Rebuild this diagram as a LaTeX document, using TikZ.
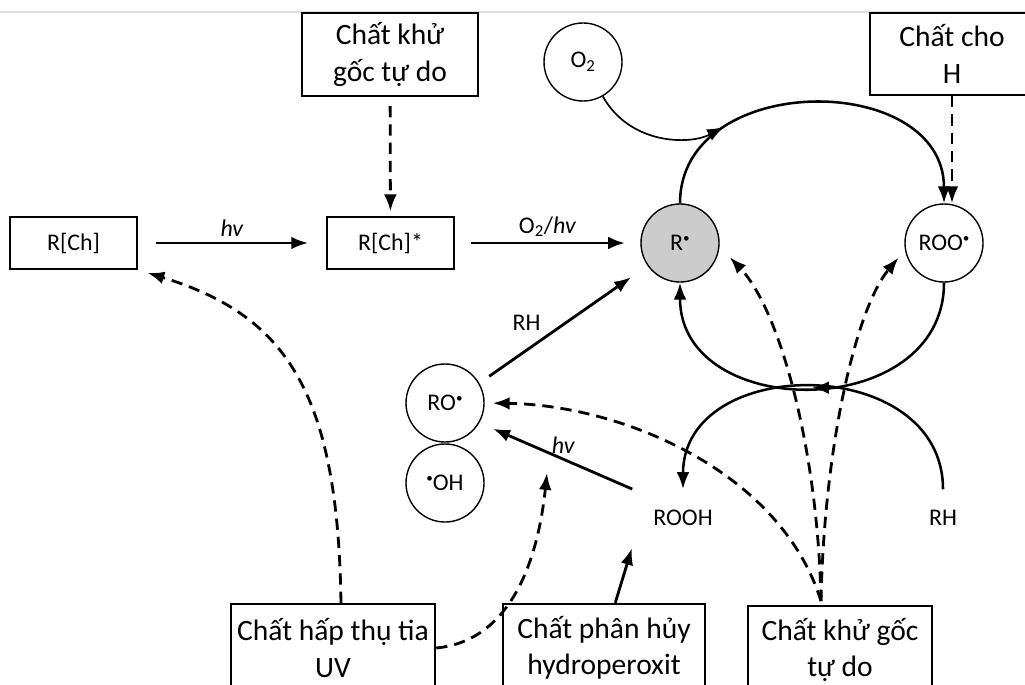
\documentclass[tikz,border=0pt]{standalone}
\usepackage{fontspec}
\setmainfont{Carlito}
\usetikzlibrary{arrows.meta,decorations.markings}
\newcommand\boxfont{\fontsize{21}{26}\selectfont}
\newcommand\chemfont{\fontsize{17}{20}\selectfont}
\newcommand\rad{\raisebox{0.75ex}{\scalebox{0.55}{•}}}

\begin{document}
\begin{tikzpicture}[
    x=0.025cm, y=-0.025cm,
    box/.style={draw, line width=1.7pt, align=center, font=\boxfont, inner sep=0pt},
    tag/.style={draw, line width=1.2pt, font=\chemfont, minimum width=3.175cm, minimum height=1.3cm},
    species/.style={draw, circle, line width=1pt, minimum size=1.95cm, inner sep=0pt, font=\chemfont},
    chem/.style={font=\chemfont, inner sep=0.52cm},
    flow/.style={-{Latex[length=12pt,width=9pt]}, line width=2pt},
    ringflow/.style={flow, line width=1.8pt},
    inhib/.style={flow, dash pattern=on 8pt off 5pt},
    midarrow/.style={postaction={decorate}, decoration={markings,
        mark=at position 0.5 with {\arrow{Latex[length=12pt,width=9pt]}}}}
]
\clip (0,0) rectangle (1025,684);
\draw[gray!25, line width=1pt] (0,12) -- (1025,12);

% boxes
\node[box, minimum width=4.4cm, minimum height=2.075cm] (scavtop) at (390,54.5) {Chất khử\\gốc tự do};
\node[box, minimum width=4.1cm, minimum height=2.05cm] (hdonor) at (952,54) {Chất cho\\H};
\node[tag] (rch) at (73.5,243) {R[Ch]};
\node[tag] (rchx) at (390.5,243) {R[Ch]*};
\node[box, minimum width=5.1cm, minimum height=2.2cm] (uvabs) at (333,648) {Chất hấp thụ tia\\UV};
\node[box, minimum width=5.05cm, minimum height=2.2cm] (decomp) at (604,648) {Chất phân hủy\\hydroperoxit};
\node[box, minimum width=4.6cm, minimum height=2.2cm] (scavbot) at (840,650) {Chất khử gốc\\tự do};

% species
\node[species] (otwo) at (583,62) {O\textsubscript{2}};
\node[species, fill=gray!40] (rdot) at (680,243) {R\rad};
\node[species] (roo) at (944,243) {ROO\rad};
\node[species] (ro) at (445,403) {RO\rad};
\node[species] (oh) at (445,483) {\rad OH};
\node[chem] (rooh) at (683,518) {ROOH};
\node[chem] (rh) at (943,518) {RH};

\coordinate (merge) at (724,127);
\coordinate (fork) at (821,601);
\coordinate (uvtip) at (547,473);

% main path
\draw[flow, shorten <=0.45cm, shorten >=0.45cm] (rch) -- node[above, font=\chemfont] {\textit{hv}} (rchx);
\draw[flow, shorten <=0.4cm, shorten >=0.38cm] (rchx) -- node[above, font=\chemfont] {O\textsubscript{2}/\textit{hv}} (rdot);
\draw[inhib, shorten <=0.22cm, shorten >=0.12cm] (scavtop) -- (rchx);
\draw[inhib] (hdonor.south) -- (roo.north -| hdonor.south);

% propagation cycle
\draw[ringflow] (rdot.north) .. controls +(0,-133) and +(0,-133) .. (roo.north);
\draw[ringflow, line width=1.2pt] (otwo.-60) .. controls (630,145) and (690,145) .. (merge);
\draw[ringflow, midarrow] (roo.south) .. controls +(0,140) and +(0,140) .. (rdot.south);
\draw[ringflow] (rh.north) .. controls +(0,-136) and +(0,-136) .. (rooh.north);

% alkoxy branch
\draw[flow, shorten <=0.3cm, shorten >=0.5cm] (ro.30) -- node[pos=0.4, above left, font=\chemfont] {RH} (rdot.215);
\draw[flow, shorten >=0.375cm] (rooh.north west) -- node[pos=0.45, above, font=\chemfont] {\textit{hv}} (ro.-30);
\draw[flow, shorten >=0.03cm] (decomp.76) -- (rooh.south west);

% stabilisers
\draw[inhib, shorten >=0.37cm] (fork) .. controls (818,450) and (780,310) .. (rdot.-5);
\draw[inhib, shorten >=0.25cm] (fork) .. controls (824,450) and (855,310) .. (roo.190);
\draw[inhib, shorten >=0.2cm] (fork) .. controls (780,470) and (620,405) .. (ro.east);
\draw[inhib, shorten >=0.25cm] (uvabs.80) .. controls (338,390) and (285,315) .. (rch.south east);
\draw[inhib] (uvabs.east) .. controls (520,640) and (540,540) .. (uvtip);
\end{tikzpicture}
\end{document}
